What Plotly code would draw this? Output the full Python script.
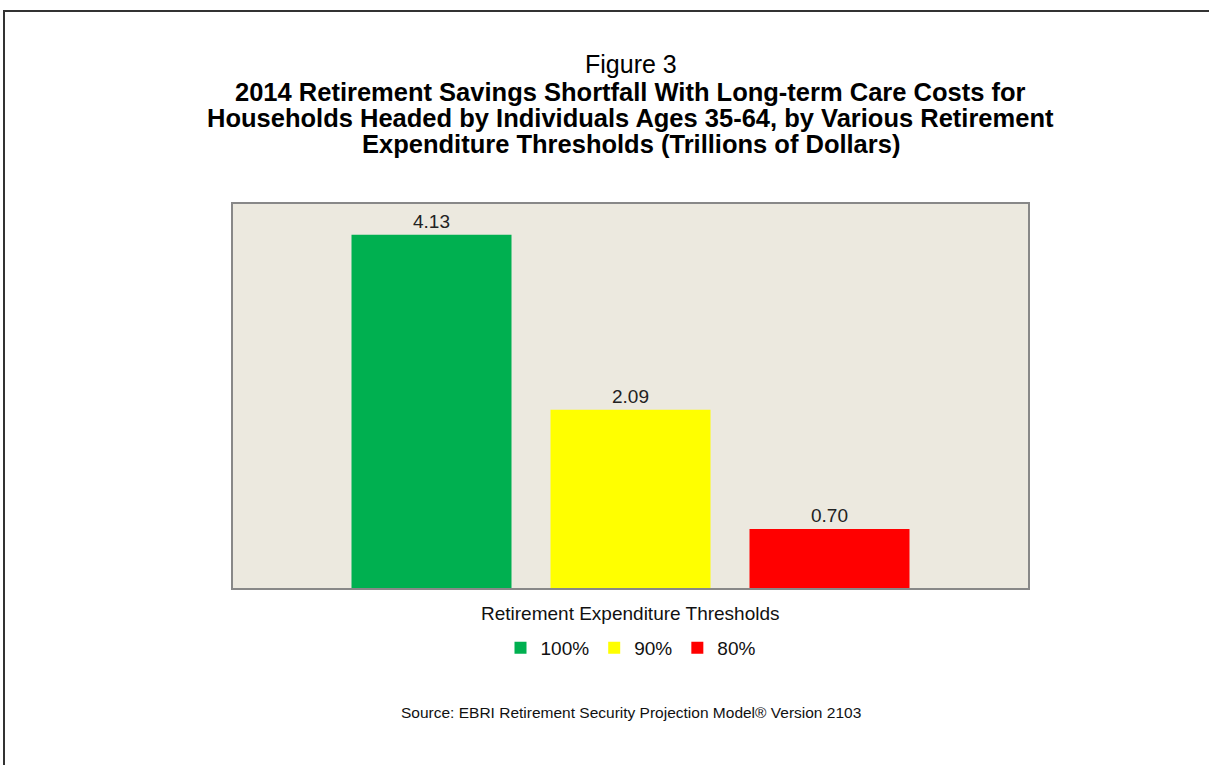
import plotly.graph_objects as go

categories = ["100%", "90%", "80%"]
values = [4.13, 2.09, 0.70]
colors = ["#00B050", "#FFFF00", "#FF0000"]

title_top = "Figure 3"
title_lines = [
    "2014 Retirement Savings Shortfall With Long-term Care Costs for",
    "Households Headed by Individuals Ages 35-64, by Various Retirement",
    "Expenditure Thresholds (Trillions of Dollars)",
]
legend_title = "Retirement Expenditure Thresholds"
source_text = "Source: EBRI Retirement Security Projection Model® Version 2103"

FONT = "Liberation Sans, Arial, sans-serif"

W, H = 1209, 765
L, R, T, B = 232, 180, 203, 176
ph = H - T - B

def py(y):
    return (H - B - y) / ph

def px(x):
    return (x - L) / (W - L - R)

fig = go.Figure()
for i, (c, v, col) in enumerate(zip(categories, values, colors)):
    fig.add_trace(go.Bar(
        x=[i], y=[v], name=c, marker=dict(color=col, line=dict(width=0)),
        width=0.804, text=[f"{v:.2f}"], textposition="outside",
        textfont=dict(size=19, color="#222", family=FONT), cliponaxis=False,
    ))

annotations = [
    dict(text=title_top, x=0.5, xref="paper", y=py(64), yref="paper",
         showarrow=False, font=dict(size=25, color="#000", family=FONT), yanchor="middle"),
]
for k, ln in enumerate(title_lines):
    annotations.append(dict(text=f"<b>{ln}</b>", x=0.5, xref="paper", y=py(92 + 25.8 * k),
                            yref="paper", showarrow=False, yanchor="middle",
                            font=dict(size=25.5, color="#000", family=FONT)))
annotations.append(dict(text=legend_title, x=0.5, xref="paper", y=py(613), yref="paper",
                        showarrow=False, yanchor="middle",
                        font=dict(size=19, color="#111", family=FONT)))
annotations.append(dict(text=source_text, x=0.5, xref="paper", y=py(712), yref="paper",
                        showarrow=False, yanchor="middle",
                        font=dict(size=15.5, color="#111", family=FONT)))

fig.update_layout(
    width=W, height=H,
    margin=dict(l=L, r=R, t=T, b=B),
    paper_bgcolor="white",
    plot_bgcolor="#ECE9DF",
    font=dict(family=FONT),
    barmode="overlay",
    showlegend=True,
    legend=dict(orientation="h", x=0.5, xanchor="center", y=py(648), yanchor="middle",
                font=dict(size=19, color="#111", family=FONT), itemwidth=30,
                tracegroupgap=0, bgcolor="rgba(0,0,0,0)"),
    xaxis=dict(range=[-1.0025, 3.0025], showticklabels=False, showgrid=False,
               zeroline=False, ticks="", fixedrange=True),
    yaxis=dict(range=[0, 4.5], showticklabels=False, showgrid=False,
               zeroline=False, ticks="", fixedrange=True),
    annotations=annotations,
    shapes=[
        dict(type="rect", xref="paper", yref="paper", x0=0, x1=1, y0=0, y1=1,
             line=dict(color="#888888", width=2), layer="above"),
        dict(type="rect", xref="paper", yref="paper", x0=px(4), x1=px(1240),
             y0=py(800), y1=py(11), line=dict(color="#333333", width=2)),
    ],
)

fig.write_html("out.html", config={"displayModeBar": False},
               post_script="document.body.style.margin='0px';")
